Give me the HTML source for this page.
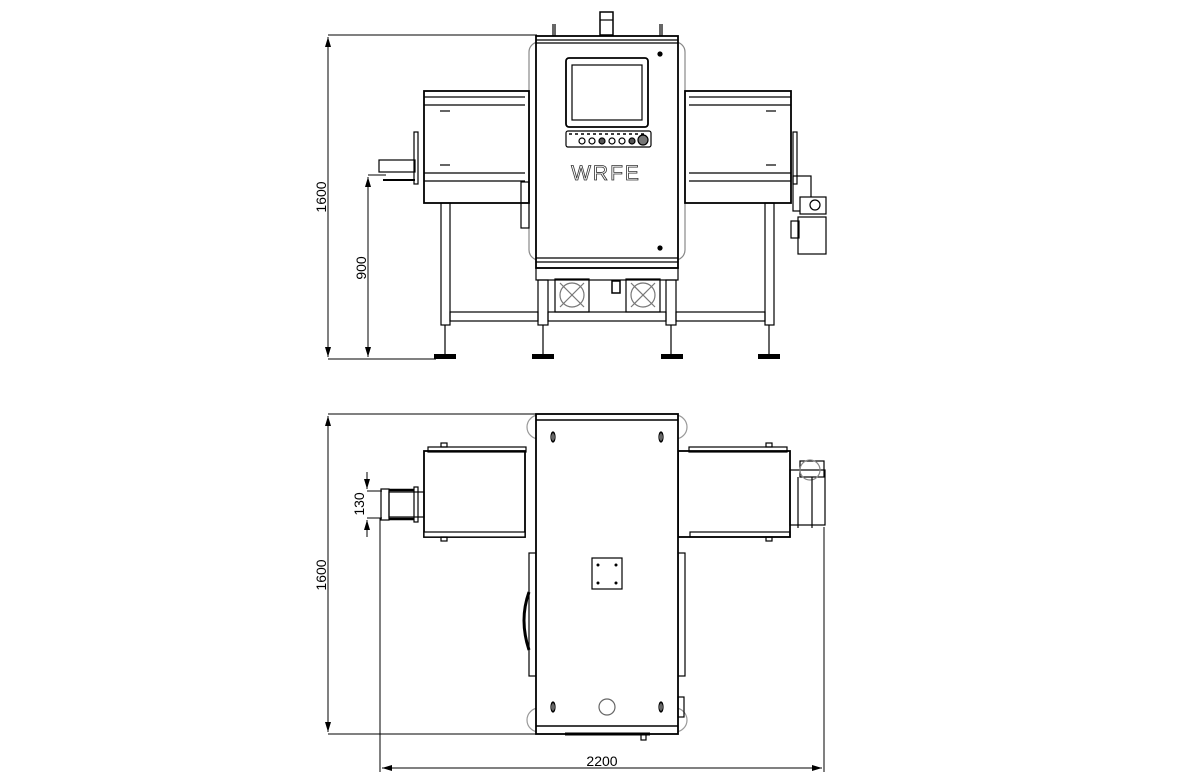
<!DOCTYPE html>
<html><head><meta charset="utf-8"><style>
html,body{margin:0;padding:0;background:#fff;}
svg{display:block;}
text{font-family:"Liberation Sans",sans-serif;}
</style></head><body>
<svg width="1199" height="776" viewBox="0 0 1199 776" xmlns="http://www.w3.org/2000/svg">
<defs>
<marker id="a" viewBox="0 0 10 6" refX="10" refY="3" markerWidth="10" markerHeight="6" orient="auto-start-reverse"><path d="M0,0 L10,3 L0,6 z" fill="#000"/></marker>
</defs>
<g stroke="#000" fill="none" stroke-width="1.2">
<line x1="328" y1="35" x2="537" y2="35" stroke-width="1"/>
<line x1="328" y1="359" x2="436" y2="359" stroke-width="1"/>
<line x1="328" y1="37" x2="328" y2="357" stroke-width="1" marker-start="url(#a)" marker-end="url(#a)"/>
<line x1="368" y1="175" x2="386" y2="175" stroke-width="1"/>
<line x1="368" y1="177" x2="368" y2="357" stroke-width="1" marker-start="url(#a)" marker-end="url(#a)"/>

<rect x="600" y="12" width="13" height="23" stroke-width="1.5"/>
<line x1="600" y1="20" x2="613" y2="20"/>
<line x1="553" y1="24" x2="553" y2="36"/><line x1="555" y1="24" x2="555" y2="36"/>
<line x1="660" y1="24" x2="660" y2="36"/><line x1="662" y1="24" x2="662" y2="36"/>
<rect x="529" y="42" width="156" height="218" rx="10" stroke="#888"/>
<rect x="536" y="36" width="142" height="232" fill="#fff" stroke-width="1.8"/>
<line x1="536" y1="40" x2="678" y2="40"/><line x1="536" y1="43" x2="678" y2="43"/>
<line x1="536" y1="258" x2="678" y2="258"/><line x1="536" y1="262" x2="678" y2="262"/>
<circle cx="660" cy="54" r="2" fill="#000"/><circle cx="660" cy="248" r="2" fill="#000"/>
<rect x="566" y="58" width="82" height="69" rx="3" stroke-width="1.8"/>
<rect x="572" y="65" width="70" height="55"/>
<rect x="566" y="131" width="85" height="16" rx="2"/>
<circle cx="582" cy="141" r="3"/><circle cx="592" cy="141" r="3"/>
<circle cx="602" cy="141" r="3" fill="#555"/><circle cx="612" cy="141" r="3"/>
<circle cx="622" cy="141" r="3"/><circle cx="632" cy="141" r="3" fill="#555"/>
<circle cx="643" cy="140" r="5" fill="#777"/>
<line x1="569" y1="134" x2="647" y2="134" stroke-dasharray="3,3" stroke-width="1.5"/>
<rect x="424" y="91" width="105" height="112" fill="#fff" stroke-width="1.8"/>
<line x1="424" y1="97" x2="525" y2="97"/><line x1="424" y1="105" x2="525" y2="105"/>
<line x1="424" y1="173" x2="525" y2="173"/><line x1="424" y1="181" x2="525" y2="181"/>
<line x1="440" y1="111" x2="450" y2="111"/><line x1="440" y1="165" x2="450" y2="165"/>
<rect x="685" y="91" width="106" height="112" fill="#fff" stroke-width="1.8"/>
<line x1="689" y1="97" x2="791" y2="97"/><line x1="689" y1="105" x2="791" y2="105"/>
<line x1="689" y1="173" x2="791" y2="173"/><line x1="689" y1="181" x2="791" y2="181"/>
<line x1="766" y1="111" x2="776" y2="111"/><line x1="766" y1="165" x2="776" y2="165"/>
<rect x="379" y="160" width="36" height="12"/>
<line x1="383" y1="180" x2="415" y2="180" stroke-width="2"/>
<rect x="414" y="132" width="4" height="52"/>
<rect x="521" y="182" width="8" height="46"/>
<rect x="793" y="132" width="4" height="52"/>
<rect x="793" y="176" width="18" height="35"/>
<rect x="800" y="197" width="26" height="17" fill="#fff"/><circle cx="815" cy="205" r="5"/>
<rect x="798" y="217" width="28" height="37"/><rect x="791" y="221" width="8" height="17"/>
<rect x="441" y="203" width="9" height="122"/>
<rect x="765" y="203" width="9" height="122"/>
<line x1="445" y1="325" x2="445" y2="355"/>
<line x1="769" y1="325" x2="769" y2="355"/>
<rect x="536" y="268" width="142" height="12"/>
<rect x="538" y="280" width="10" height="45"/><rect x="666" y="280" width="10" height="45"/>
<line x1="543" y1="325" x2="543" y2="355"/><line x1="671" y1="325" x2="671" y2="355"/>
<rect x="555" y="279" width="34" height="33"/><rect x="626" y="279" width="34" height="33"/>
<circle cx="572" cy="295" r="12" stroke="#777"/><circle cx="643" cy="295" r="12" stroke="#777"/>
<line x1="560" y1="283" x2="584" y2="307" stroke="#777"/><line x1="584" y1="283" x2="560" y2="307" stroke="#777"/>
<line x1="631" y1="283" x2="655" y2="307" stroke="#777"/><line x1="655" y1="283" x2="631" y2="307" stroke="#777"/>
<rect x="612" y="281" width="8" height="12" stroke-width="1.5"/>
<rect x="450" y="312" width="88" height="9"/><rect x="548" y="312" width="118" height="9"/>
<rect x="676" y="312" width="89" height="9"/>
</g>
<g fill="#000">
<rect x="434" y="354" width="22" height="5"/><rect x="532" y="354" width="22" height="5"/>
<rect x="661" y="354" width="22" height="5"/><rect x="758" y="354" width="22" height="5"/>
</g>
<text x="606" y="180" font-size="21" fill="#fff" stroke="#333" stroke-width="0.8" text-anchor="middle" letter-spacing="2">WRFE</text>
<text transform="translate(326,197) rotate(-90)" font-size="14" text-anchor="middle">1600</text>
<text transform="translate(366,268) rotate(-90)" font-size="14" text-anchor="middle">900</text>

<g stroke="#000" fill="none" stroke-width="1.2">
<line x1="328" y1="414" x2="537" y2="414" stroke-width="1"/>
<line x1="328" y1="734" x2="537" y2="734" stroke-width="1"/>
<line x1="328" y1="416" x2="328" y2="732" stroke-width="1" marker-start="url(#a)" marker-end="url(#a)"/>
<line x1="367" y1="472" x2="367" y2="489" stroke-width="1" marker-end="url(#a)"/>
<line x1="367" y1="537" x2="367" y2="520" stroke-width="1" marker-end="url(#a)"/>
<line x1="367" y1="491" x2="382" y2="491" stroke-width="1"/><line x1="367" y1="518" x2="382" y2="518" stroke-width="1"/>
<line x1="380" y1="518" x2="380" y2="772" stroke-width="1"/><line x1="824" y1="527" x2="824" y2="772" stroke-width="1"/>
<line x1="382" y1="768" x2="822" y2="768" stroke-width="1" marker-start="url(#a)" marker-end="url(#a)"/>
<rect x="529" y="553" width="7" height="123"/><rect x="678" y="553" width="7" height="123"/>
<path d="M529,592 Q519,620 529,650" stroke-width="3"/>
<rect x="424" y="451" width="101" height="86" fill="#fff" stroke-width="1.8"/>
<rect x="428" y="447" width="98" height="5"/><rect x="424" y="532" width="101" height="5" fill="#fff"/>
<rect x="678" y="451" width="112" height="86" fill="#fff" stroke-width="1.8"/>
<rect x="689" y="447" width="98" height="5"/><rect x="690" y="532" width="100" height="5"/>
<rect x="441" y="443" width="6" height="4"/><rect x="441" y="537" width="6" height="4"/>
<rect x="766" y="443" width="6" height="4"/><rect x="766" y="537" width="6" height="4"/>
<rect x="381" y="489" width="8" height="31"/><rect x="389" y="492" width="35" height="25"/>
<rect x="414" y="487" width="4" height="35"/>
<line x1="389" y1="490" x2="414" y2="490" stroke-width="2.5"/><line x1="389" y1="519" x2="414" y2="519" stroke-width="2.5"/>
<rect x="790" y="470" width="35" height="55"/>
<rect x="800" y="461" width="24" height="16"/><circle cx="810" cy="470" r="10" stroke="#888"/>
<line x1="798" y1="477" x2="798" y2="528"/><line x1="812" y1="477" x2="812" y2="528"/>
<circle cx="539" cy="427" r="12" stroke="#999"/><circle cx="675" cy="427" r="12" stroke="#999"/>
<circle cx="539" cy="720" r="12" stroke="#999"/><circle cx="675" cy="720" r="12" stroke="#999"/>
<rect x="536" y="414" width="142" height="320" fill="#fff" stroke-width="1.8"/>
<line x1="536" y1="420" x2="678" y2="420" stroke-width="1.5"/>
<line x1="536" y1="726" x2="678" y2="726" stroke-width="1.5"/>
<line x1="565" y1="734" x2="650" y2="734" stroke-width="3"/>
<rect x="641" y="734" width="5" height="6"/>
<ellipse cx="553" cy="437" rx="2" ry="5"/><ellipse cx="661" cy="437" rx="2" ry="5"/>
<ellipse cx="553" cy="707" rx="2" ry="5"/><ellipse cx="661" cy="707" rx="2" ry="5"/>
<line x1="553" y1="432" x2="553" y2="442"/><line x1="661" y1="432" x2="661" y2="442"/>
<line x1="553" y1="702" x2="553" y2="712"/><line x1="661" y1="702" x2="661" y2="712"/>
<rect x="592" y="558" width="30" height="31"/>
<circle cx="607" cy="707" r="8" stroke="#666"/>
<rect x="678" y="697" width="6" height="20"/>
</g>
<g fill="#000">
<circle cx="598" cy="565" r="1.5"/><circle cx="616" cy="565" r="1.5"/>
<circle cx="598" cy="583" r="1.5"/><circle cx="616" cy="583" r="1.5"/>
</g>
<text transform="translate(326,575) rotate(-90)" font-size="14" text-anchor="middle">1600</text>
<text transform="translate(364,504) rotate(-90)" font-size="14" text-anchor="middle">130</text>
<text x="602" y="766" font-size="14" text-anchor="middle">2200</text>
</svg>
</body></html>
